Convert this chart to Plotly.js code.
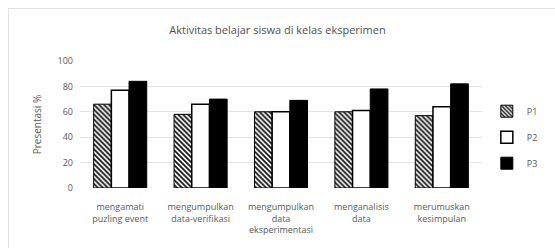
<!DOCTYPE html>
<html>
<head>
<meta charset="utf-8">
<script src="https://cdn.plot.ly/plotly-3.0.1.min.js"></script>
<style>
html,body{margin:0;padding:0;background:#fff;}
#frame{position:absolute;left:8px;top:8px;width:560px;height:260px;border:1px solid #e2e2e2;box-sizing:border-box;}
#chart{position:absolute;left:0;top:0;width:555px;height:248px;}
</style>
</head>
<body>
<div id="frame"></div>
<div id="chart"></div>
<script>
const categories = [
  "mengamati<br>puzling event",
  "mengumpulkan<br>data-verifikasi",
  "mengumpulkan<br>data<br>eksperimentasi",
  "menganalisis<br>data",
  "merumuskan<br>kesimpulan"
];
const seriesNames = ["P1", "P2", "P3"];
const p1 = [66, 58, 60, 60, 57];
const p2 = [77, 66, 60, 61, 64];
const p3 = [84, 70, 69, 78, 82];
const yTicks = [0, 20, 40, 60, 80, 100];

const gray = "#595959";
const font = "Open Sans, Noto Sans, sans-serif";

const traces = [
  {x: categories, y: p1, name: seriesNames[0], type: "bar", legendgroup: "a",
   marker: {color: "white", line: {color: "#000", width: 1},
            pattern: {shape: "\\", fgcolor: "#111", bgcolor: "#fff", size: 3.5, solidity: 0.5}}},
  {x: categories, y: p2, name: seriesNames[1], type: "bar", legendgroup: "b",
   marker: {color: "#fff", line: {color: "#000", width: 1.5}}},
  {x: categories, y: p3, name: seriesNames[2], type: "bar", legendgroup: "c",
   marker: {color: "#000", line: {color: "#000", width: 1}}}
];

const layout = {
  width: 555, height: 248,
  margin: {l: 80, r: 48, t: 61, b: 60},
  paper_bgcolor: "rgba(0,0,0,0)",
  plot_bgcolor: "rgba(0,0,0,0)",
  barmode: "group",
  bargap: 0.34,
  bargroupgap: 0,
  font: {family: font, color: gray, size: 9},
  title: {text: "Aktivitas belajar siswa di kelas eksperimen", x: 0.5, xanchor: "center",
          y: 1 - 30/248, yanchor: "middle", yref: "container",
          font: {family: font, size: 11, color: "#505050"}},
  xaxis: {tickfont: {size: 9, color: gray}, showline: false, ticks: "", showgrid: false,
          ticklabelstandoff: 12},
  yaxis: {range: [0, 100], tickvals: yTicks, ticktext: yTicks.map(String),
          gridcolor: "#e3e3e3", gridwidth: 1, zeroline: false, showline: false,
          tickfont: {size: 9, color: gray}, ticklabelstandoff: 6,
          title: {text: "Presentasi %", font: {size: 10, color: gray}, standoff: 14}},
  legend: {x: 1.012, xanchor: "left", y: 0.40, yanchor: "middle",
           font: {size: 9, color: gray}, tracegroupgap: 7, itemwidth: 30,
           bgcolor: "rgba(0,0,0,0)"},
  showlegend: true
};

Plotly.newPlot("chart", traces, layout, {displayModeBar: false, staticPlot: true});
</script>
</body>
</html>
